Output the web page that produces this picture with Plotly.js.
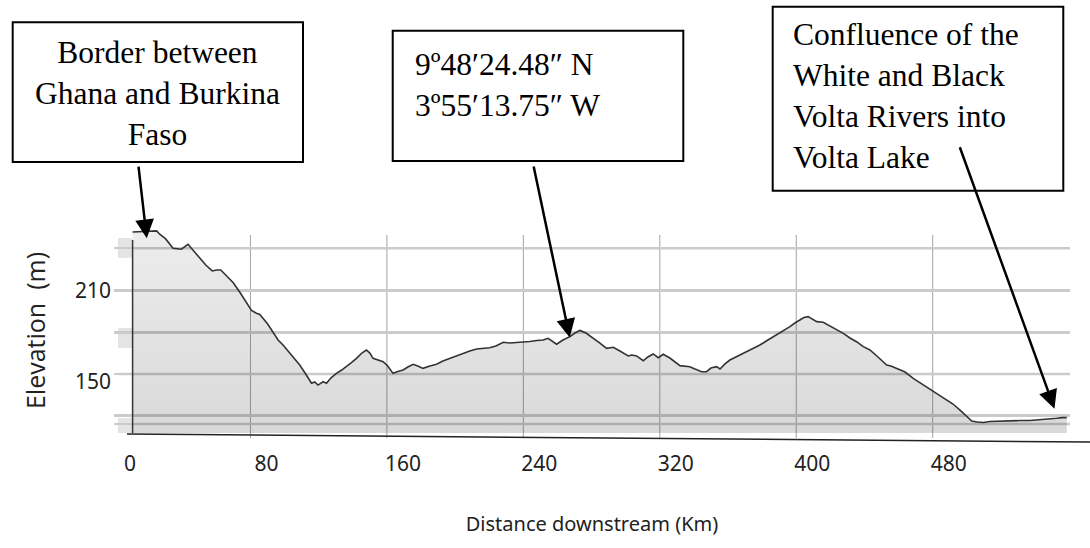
<!DOCTYPE html>
<html>
<head>
<meta charset="utf-8">
<script src="https://cdn.plot.ly/plotly-3.0.1.min.js"></script>
<style>html,body{margin:0;padding:0;background:#fff;}#chart{width:1090px;height:548px;}</style>
</head>
<body>
<div id="chart"></div>
<script>
const distanceKm = [10.9, 25.0, 26.8, 30.3, 34.6, 36.8, 39.5, 43.4, 46.7, 50.3,
  53.8, 57.6, 60.2, 62.6, 66.1, 69.8, 73.7, 77.7, 80.6, 83.5,
  85.5, 90.1, 96.2, 99.1, 104.2, 108.9, 112.4, 115.8, 117.7, 119.6,
  122.6, 124.6, 127.1, 130.4, 133.5, 136.3, 138.8, 142.2, 145.3, 148.0,
  150.0, 151.9, 154.7, 157.8, 160.5, 163.6, 166.4, 169.5, 172.3, 175.4,
  178.1, 181.2, 185.2, 189.1, 192.8, 196.9, 201.0, 204.7, 208.6, 212.6,
  216.2, 220.3, 223.9, 228.2, 232.1, 235.6, 239.9, 243.8, 247.9, 251.6,
  254.5, 256.7, 259.5, 263.2, 267.3, 270.2, 273.2, 276.7, 280.9, 284.9,
  288.8, 292.7, 296.6, 301.5, 303.6, 306.4, 310.3, 313.0, 316.1, 319.1,
  322.0, 325.9, 331.8, 337.6, 340.6, 344.5, 347.4, 350.0, 353.3, 355.3,
  358.2, 361.1, 364.6, 368.9, 372.8, 378.7, 383.4, 388.5, 392.2, 396.3,
  399.2, 402.2, 404.5, 407.0, 409.2, 412.0, 415.8, 419.8, 423.9, 427.6,
  431.5, 435.6, 439.3, 443.2, 447.9, 453.0, 455.5, 458.9, 463.8, 468.6,
  473.7, 480.4, 484.3, 488.2, 491.9, 496.0, 499.5, 502.9, 506.0, 509.7,
  513.6, 519.5, 525.4, 531.3, 537.1, 543.0, 547.6, 552.7, 555.8, 558.6];

const elevationM = [248.7, 249.4, 247.2, 244.1, 238.0, 237.5, 237.3, 240.6, 236.2, 231.6,
  226.9, 223.0, 223.6, 223.6, 219.7, 215.4, 209.1, 201.7, 197.0, 195.1,
  194.3, 188.0, 177.5, 174.2, 167.6, 161.0, 155.1, 149.0, 149.8, 147.8,
  150.0, 149.0, 152.4, 155.5, 157.7, 159.9, 162.3, 165.4, 168.9, 170.9,
  168.9, 165.4, 164.3, 163.2, 160.4, 155.5, 156.7, 157.7, 159.7, 161.5,
  160.4, 158.8, 160.4, 161.5, 163.6, 165.4, 167.0, 168.7, 170.2, 171.6,
  171.9, 172.4, 173.5, 176.0, 175.5, 175.8, 176.0, 176.5, 177.2, 177.5,
  178.6, 176.8, 174.7, 177.5, 179.7, 182.1, 183.8, 182.1, 179.0, 175.5,
  172.0, 172.7, 170.2, 167.0, 167.6, 167.0, 163.8, 166.3, 168.3, 165.8,
  168.1, 165.6, 160.6, 159.9, 158.4, 156.6, 156.6, 159.0, 159.9, 158.4,
  161.7, 164.3, 166.3, 168.7, 170.9, 174.2, 177.5, 180.8, 183.4, 186.3,
  188.7, 190.7, 192.3, 192.9, 191.3, 189.6, 189.2, 186.7, 184.1, 181.9,
  178.8, 176.2, 173.1, 170.9, 166.3, 161.0, 160.4, 158.8, 156.4, 152.2,
  148.5, 143.4, 140.6, 137.9, 135.3, 131.3, 127.4, 124.1, 123.4, 123.1,
  123.8, 124.1, 124.1, 124.4, 124.4, 124.8, 125.4, 125.9, 126.3, 126.3];

const xTickVals = [0, 80, 160, 240, 320, 400, 480];
const xTickText = ['0', '80', '160', '240', '320', '400', '480'];
const yTickVals = [150, 210];
const yTickText = ['150', '210'];
const gridElev = [122.1, 127.6, 155.1, 182.6, 210.05, 238.0];

const callouts = [
  {text: 'Border between<br>Ghana and Burkina<br>Faso', km: 19.2, elev: 244.5},
  {text: '9º48′24.48″ N<br>3º55′13.75″ W', km: 267.2, elev: 179.1},
  {text: 'Confluence of the<br>White and Black<br>Volta Rivers into<br>Volta Lake', km: 551.4, elev: 132.2}
];

// layout geometry (pixels of the 1090x548 page)
const M = {l: 114, r: 20, t: 228, b: 115};
const PW = 1090 - M.l - M.r, PH = 548 - M.t - M.b;
const px = x => (x - M.l) / PW;
const py = y => (548 - M.b - y) / PH;
const GRID_COLOR = '#cbcbcb';

const boxes = [
  {x0: 12.7, x1: 303, y0: 22.3, y1: 162},
  {x0: 392.7, x1: 683.3, y0: 30.7, y1: 161},
  {x0: 772.7, x1: 1063.3, y0: 6.7, y1: 190.7}
];
const textPos = [
  {x: 157.9, y: 93, anchor: 'center', align: 'center'},
  {x: 413, y: 85, anchor: 'left', align: 'left'},
  {x: 791.3, y: 96, anchor: 'left', align: 'left'}
];
const arrowTail = [{ax: -8.4, ay: -73.3}, {ax: -36.4, ay: -172.5}, {ax: -95.2, ay: -263}];

const shapes = [];
// horizontal grid lines (same positions as the minor grid, guarantees every line is drawn)
gridElev.forEach(v => shapes.push({type: 'line', xref: 'paper', yref: 'y', x0: px(118), x1: 1, y0: v, y1: v,
  line: {color: GRID_COLOR, width: 2.5}, layer: 'below'}));
// vertical grid lines
xTickVals.filter(v => v > 0).forEach(v => shapes.push({type: 'line', xref: 'x', yref: 'paper', x0: v, x1: v,
  y0: py(438), y1: py(235), line: {color: '#a3a3a3', width: 1}, layer: 'below'}));
// left grey strips
[[244.7, 231.6], [185.4, 172.2], [126.1, 116.2]].forEach(b => shapes.push({type: 'rect', xref: 'paper', yref: 'y',
  x0: px(118), x1: px(132), y0: b[1], y1: b[0], fillcolor: '#e4e4e4', line: {width: 0}, layer: 'below'}));
// vertical axis line
shapes.push({type: 'line', xref: 'x', yref: 'paper', x0: distanceKm[0], x1: distanceKm[0], y0: 0, y1: py(240),
  line: {color: '#333', width: 1.5}});
// slanted base line
shapes.push({type: 'line', xref: 'paper', yref: 'paper', x0: px(127), y0: py(434), x1: px(1090), y1: py(442),
  line: {color: '#222', width: 1.5}});
// callout boxes
boxes.forEach(b => shapes.push({type: 'rect', xref: 'paper', yref: 'paper', x0: px(b.x0), x1: px(b.x1),
  y0: py(b.y1), y1: py(b.y0), line: {color: '#000', width: 2}, fillcolor: 'rgba(0,0,0,0)'}));

const annotations = [];
callouts.forEach((c, i) => {
  annotations.push({xref: 'paper', yref: 'paper', x: px(textPos[i].x), y: py(textPos[i].y),
    xanchor: textPos[i].anchor, yanchor: 'middle', align: textPos[i].align, showarrow: false,
    text: c.text, font: {family: 'Liberation Serif, Times New Roman, serif', size: 31.5, color: '#000'}});
  annotations.push({xref: 'x', yref: 'y', x: c.km, y: c.elev, text: '', showarrow: true,
    ax: arrowTail[i].ax, ay: arrowTail[i].ay, arrowhead: 2, arrowsize: 1.5, arrowwidth: 2.5,
    arrowcolor: '#000', standoff: 0, startstandoff: 0});
});

const trace = {
  x: distanceKm, y: elevationM, type: 'scatter', mode: 'lines',
  line: {color: '#333', width: 1.6},
  fill: 'tozeroy',
  fillgradient: {type: 'vertical', start: 116.2, stop: 251.3,
    colorscale: [[0, 'rgba(0,0,0,0.15)'], [1, 'rgba(0,0,0,0.07)']]},
  hoverinfo: 'x+y'
};

const layout = {
  width: 1090, height: 548,
  margin: M,
  paper_bgcolor: '#fff', plot_bgcolor: 'rgba(0,0,0,0)',
  showlegend: false,
  xaxis: {range: [0, 560.5], tickmode: 'array', tickvals: xTickVals, ticktext: xTickText,
    showgrid: false, zeroline: false, showline: false, ticks: '',
    ticklabelstandoff: 16, ticklabelshift: 16,
    tickfont: {family: 'Noto Sans, sans-serif', size: 21, color: '#222'},
    title: {text: 'Distance downstream (Km)', standoff: 40,
      font: {family: 'Noto Sans, sans-serif', size: 20, color: '#222'}}},
  yaxis: {range: [116.2, 251.3], tickmode: 'array', tickvals: yTickVals, ticktext: yTickText,
    showgrid: false, zeroline: false, showline: false, ticks: '', ticklabelstandoff: 2,
    minor: {tickmode: 'array', tickvals: gridElev, showgrid: true, gridcolor: GRID_COLOR, gridwidth: 2.5, ticks: ''},
    tickfont: {family: 'Noto Sans, sans-serif', size: 21, color: '#222'},
    title: {text: 'Elevation\u00a0 (m)', standoff: 22,
      font: {family: 'Open Sans, sans-serif', size: 25, color: '#222'}}},
  shapes: shapes,
  annotations: annotations
};

Plotly.newPlot('chart', [trace], layout, {displayModeBar: false, staticPlot: true});
</script>
</body>
</html>
